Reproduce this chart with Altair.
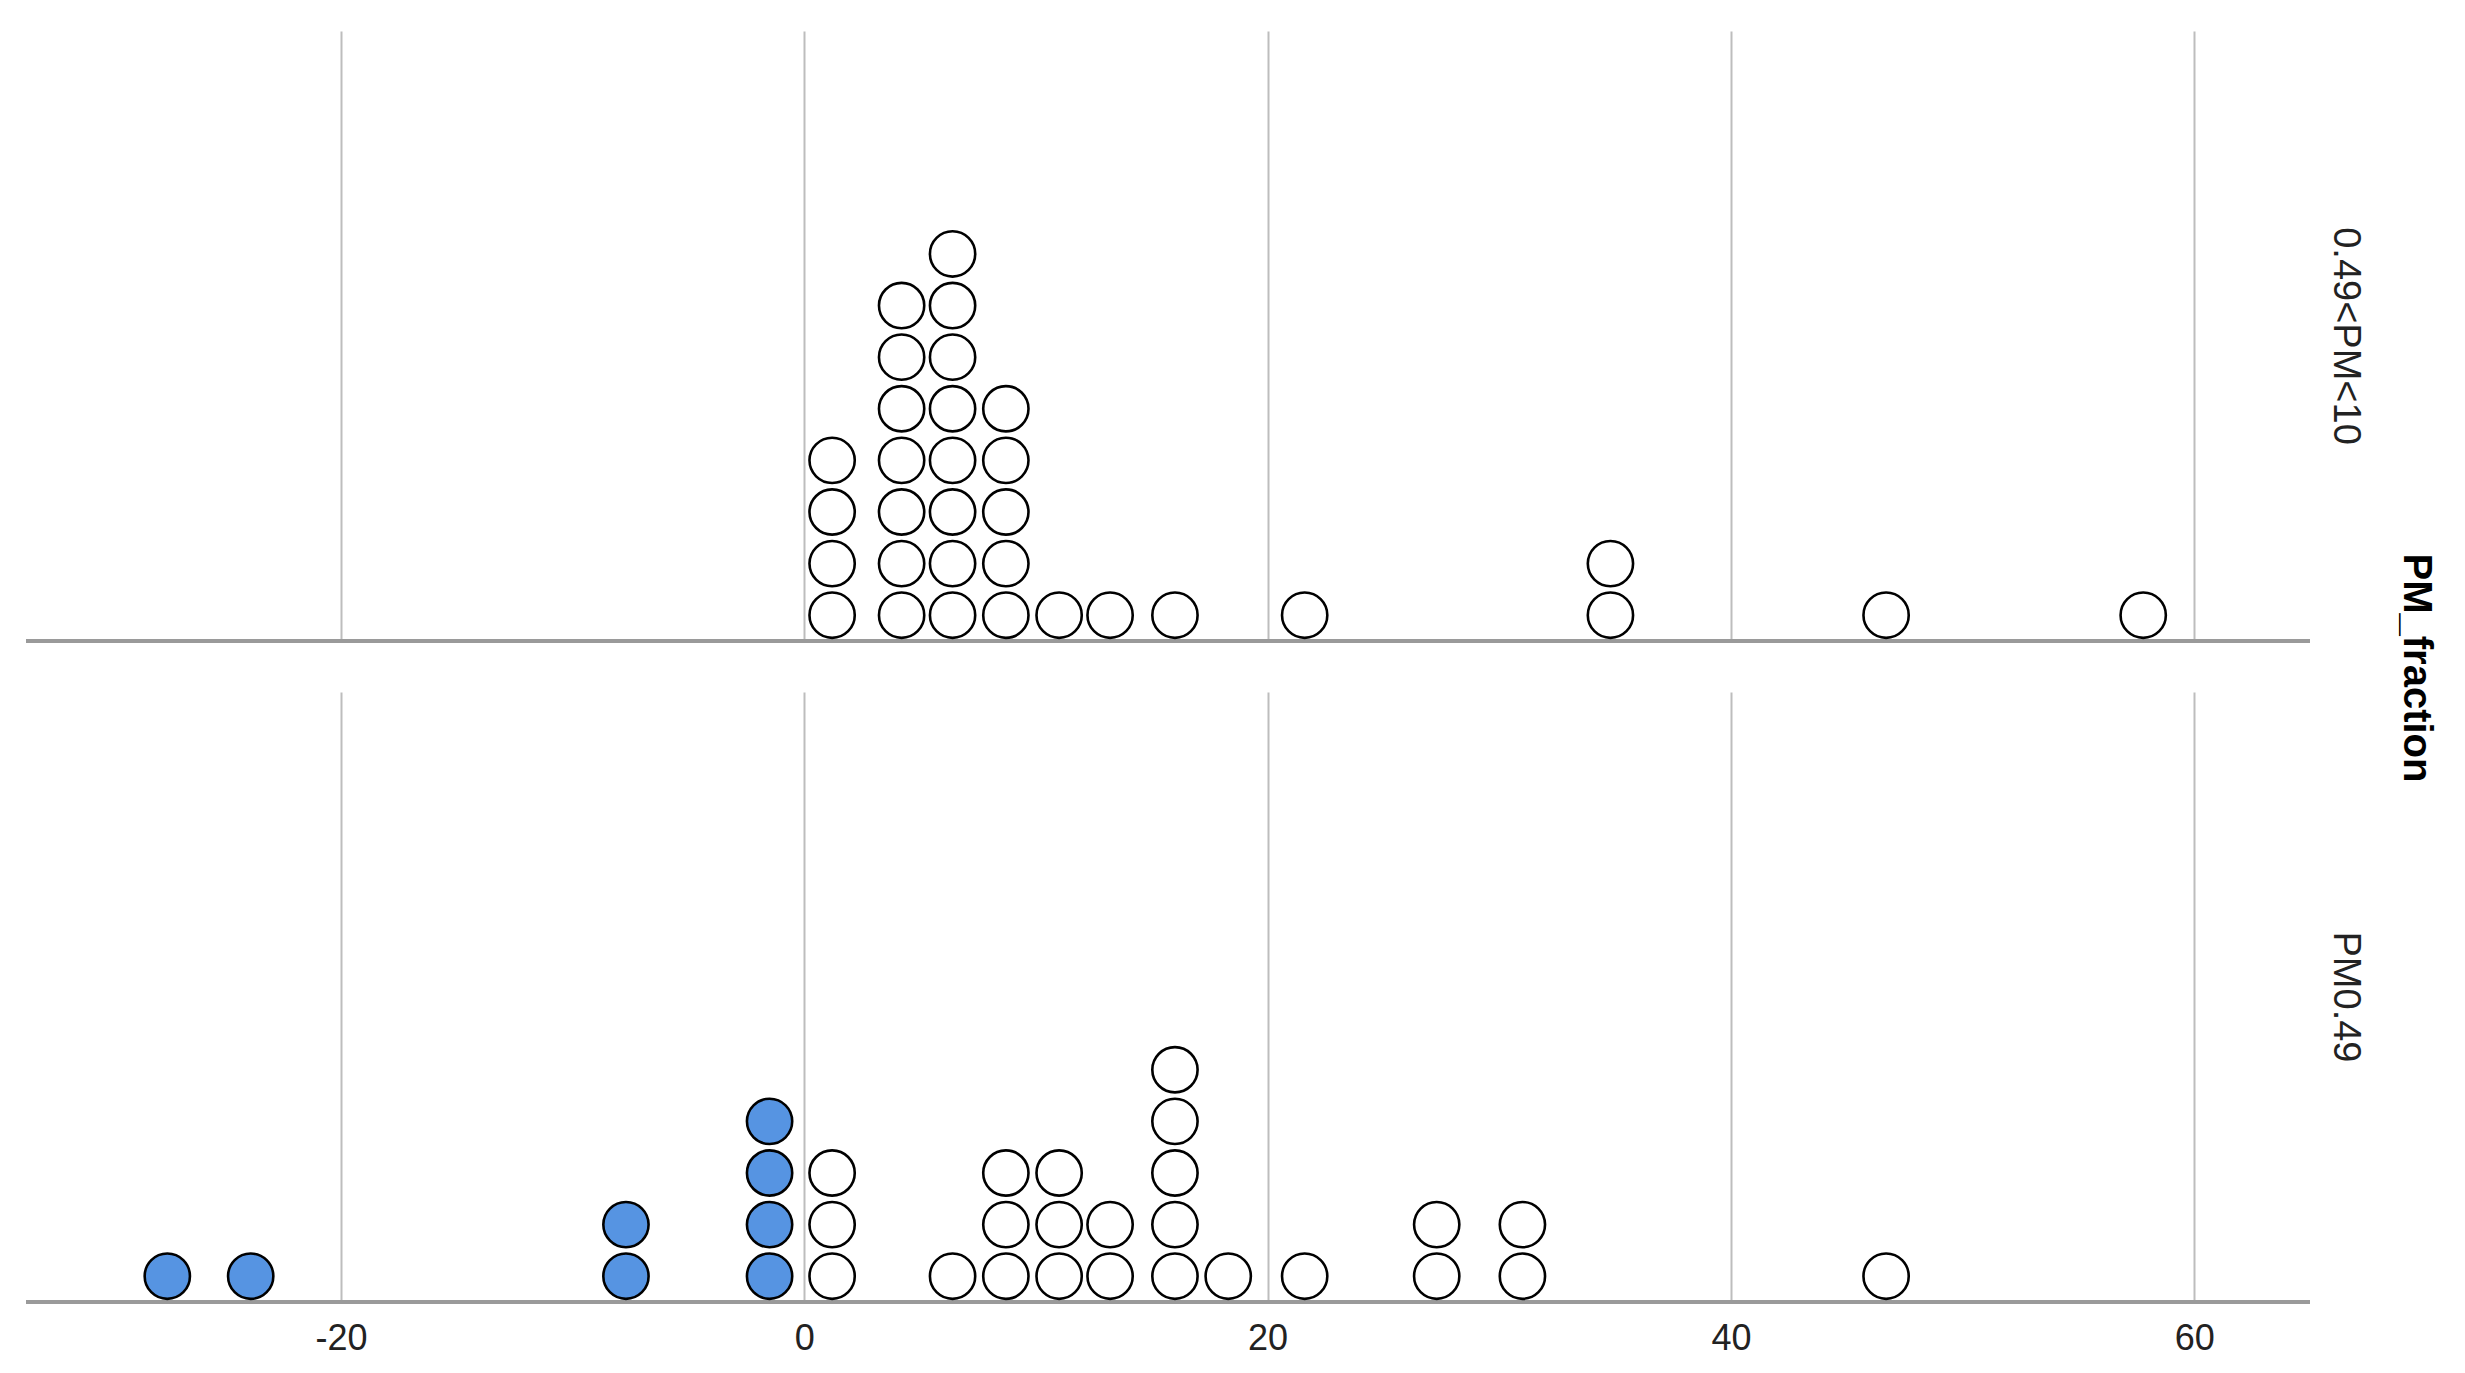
import altair as alt
import pandas as pd

# Column positions (value) and number of stacked dots, per PM fraction
top_bins = [1.2, 4.2, 6.4, 8.7, 11.0, 13.2, 16.0, 21.6, 34.8, 46.7, 57.8]
top_counts = [4, 7, 8, 5, 1, 1, 1, 1, 2, 1, 1]

bottom_bins = [-27.5, -23.9, -7.7, -1.5, 1.2, 6.4, 8.7, 11.0, 13.2, 16.0, 18.3, 21.6, 27.3, 31.0, 46.7]
bottom_counts = [1, 1, 2, 4, 3, 1, 3, 3, 2, 5, 1, 1, 2, 2, 1]

panels = ["0.49<PM<10", "PM0.49"]
x_ticks = [-20, 0, 20, 40, 60]

rows = []
for panel, bins, counts in [(panels[0], top_bins, top_counts), (panels[1], bottom_bins, bottom_counts)]:
    for b, c in zip(bins, counts):
        for k in range(1, c + 1):
            rows.append({"PM_fraction": panel, "value": b, "level": k})
df = pd.DataFrame(rows)

BLUE = "#5694E2"
FONT = "Liberation Sans"

xscale = alt.Scale(domain=[-33.6, 65.0], nice=False, zero=False)
yscale = alt.Scale(domain=[0.5, 12.32], nice=False, zero=False)

baseline = alt.Chart().transform_calculate(base="0.5").mark_rule(
    color="#9a9a9a", strokeWidth=3.5
).encode(y=alt.Y("base:Q", scale=yscale, axis=None))

dots = alt.Chart().mark_circle(size=2050, stroke="black", strokeWidth=2.6, opacity=1).encode(
    x=alt.X("value:Q", scale=xscale,
            axis=alt.Axis(values=x_ticks, title=None, grid=True, gridColor="#bdbdbd", gridWidth=2,
                          domain=False, ticks=False, tickSize=0, labelPadding=16,
                          labelExpr="'' + datum.value",
                          labelFont="Liberation Sans Narrow, Liberation Sans", labelFontSize=36,
                          labelColor="#222222")),
    y=alt.Y("level:Q", scale=yscale, axis=None),
    fill=alt.condition(alt.datum.value < 0, alt.value(BLUE), alt.value("white")),
)

chart = alt.layer(baseline, dots, data=df).properties(width=2284, height=610).facet(
    row=alt.Row("PM_fraction:N", sort=panels,
                header=alt.Header(labelOrient="right", labelAngle=90, labelFont=FONT, labelFontSize=38,
                                  labelColor="#222222", labelPadding=14,
                                  title="PM_fraction", titleOrient="right", titleAngle=90,
                                  titleFont=FONT, titleFontSize=40, titleFontWeight="bold",
                                  titleColor="black", titlePadding=22)),
    spacing=48,
).properties(
    padding={"left": 16, "top": 23, "right": 6, "bottom": 0}
).configure(background="white").configure_view(strokeWidth=0, stroke="transparent")

chart.save("out.html", embed_options={"renderer": "svg", "actions": False})
